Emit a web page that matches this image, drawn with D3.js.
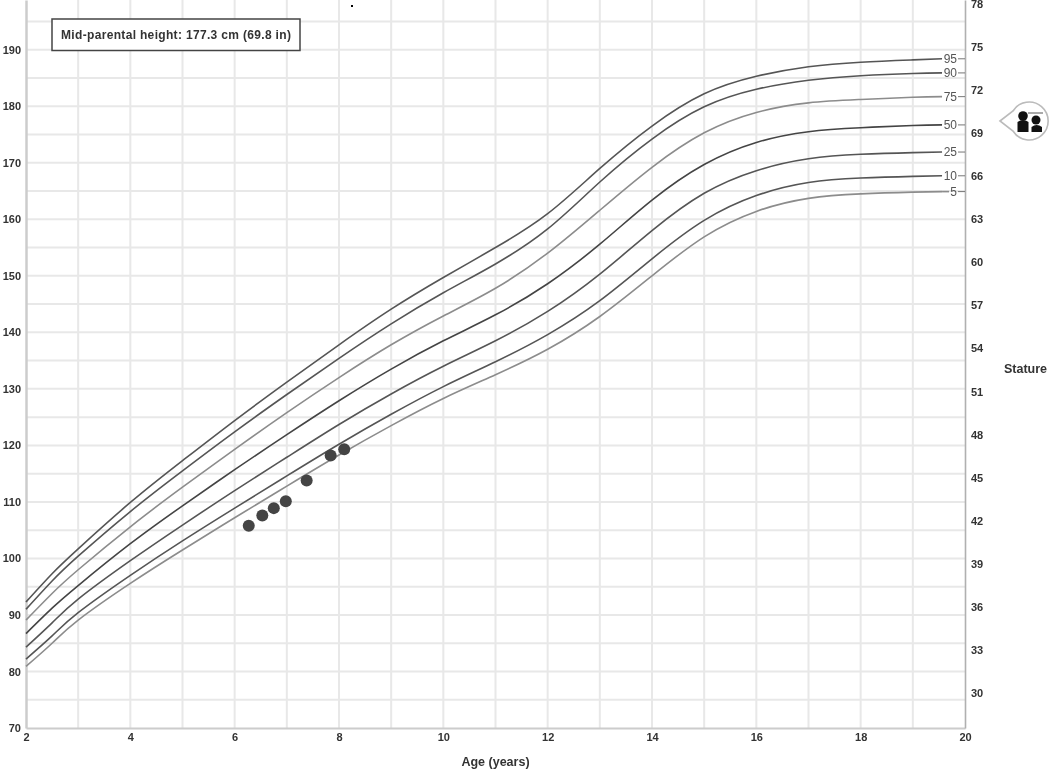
<!DOCTYPE html>
<html lang="en">
<head>
<meta charset="UTF-8">
<script src="https://d3js.org/d3.v7.min.js"></script>
<style>
body { margin:0; background:#fff; }
svg { display:block; filter:blur(0.5px); font-family:"Liberation Sans",Arial,sans-serif; }
text { font-weight:bold; font-size:11px; fill:#333; }
.grid { stroke:#e8e8e8; stroke-width:2px; }
.curve { fill:none; stroke-width:1.6px; }
</style>
<title>Stature for age</title>
</head>
<body>
<script>
var ages = [2,2.5,3,4,5,6,7,8,9,10,11,12,13,14,15,16,17,18,19,19.56];
var p95 = [92.3,97.3,101.7,109.9,117.3,124.4,131.2,137.8,144.1,149.7,155,161,169,176.5,182.2,185.3,187,187.8,188.2,188.4];
var p90 = [91,96,100.4,108.3,115.5,122.4,129,135.4,141.5,147,152.1,158.3,166.6,174.2,179.9,183,184.6,185.4,185.8,185.9];
var p75 = [89.1,93.8,98,105.6,112.6,119.3,125.8,132,137.8,142.9,147.8,154,161.6,169.2,175.3,178.9,180.6,181.2,181.6,181.7];
var p50 = [86.7,91.2,95.2,102.6,109.3,115.7,121.9,127.9,133.5,138.5,143.1,148.6,155.6,163.4,169.7,173.6,175.5,176.2,176.6,176.7];
var p25 = [84.3,88.6,92.8,99.6,105.9,112,117.9,123.7,129.1,134,138.5,143.7,150.3,158,164.6,168.6,170.7,171.5,171.8,171.9];
var p10 = [82.2,86.3,90.4,97,103.1,108.9,114.6,120.2,125.5,130.4,134.8,139.6,145.6,153,159.8,164.2,166.5,167.3,167.6,167.7];
var p5 = [80.9,85,89.1,95.6,101.5,107.2,112.8,118.3,123.5,128.3,132.5,137,142.8,150,156.9,161.4,163.7,164.5,164.8,164.9];
var curveNames = ["95","90","75","50","25","10","5"];
var curveValues = [p95,p90,p75,p50,p25,p10,p5];
var curveColors = ["#555","#555","#8c8c8c","#444","#555","#555","#8c8c8c"];

var visitAges = [6.27,6.53,6.75,6.98,7.38,7.84,8.1];
var visitHeights = [105.8,107.6,108.9,110.1,113.8,118.2,119.3];

var cmTicks = d3.range(70,191,10);
var inTicks = d3.range(30,79,3);
var ageTicks = d3.range(2,21,2);
var cmPerIn = 2.54;

var x = d3.scaleLinear().domain([2,20]).range([26,965]);
var y = d3.scaleLinear().domain([70,198.8]).range([728,0]);

var svg = d3.select("body").append("svg").attr("width",1050).attr("height",771);

// grid
svg.append("g").selectAll("line").data(d3.range(3,20)).enter().append("line")
    .attr("class","grid")
    .attr("x1",function(d){return x(d);}).attr("x2",function(d){return x(d);})
    .attr("y1",0).attr("y2",728);
svg.append("g").selectAll("line").data(d3.range(75,196,5)).enter().append("line")
    .attr("class","grid")
    .attr("x1",26).attr("x2",965)
    .attr("y1",function(d){return y(d);}).attr("y2",function(d){return y(d);});

// axes
var axisBottom = svg.append("g").attr("transform","translate(0,728)").call(d3.axisBottom(x).tickValues(ageTicks).tickSize(0).tickPadding(5));
var axisLeft = svg.append("g").attr("transform","translate(26,0)").call(d3.axisLeft(y).tickValues(cmTicks).tickSize(0).tickPadding(5));
var axisRight = svg.append("g").attr("transform","translate(965,0)")
    .call(d3.axisRight(y).tickValues(inTicks.map(function(d){return d*cmPerIn;})).tickFormat(function(d){return Math.round(d/cmPerIn);}).tickSize(0).tickPadding(6));
[axisBottom,axisLeft,axisRight].forEach(function(a){
    a.selectAll("text").style("font-family","inherit").style("font-size","11px");
});
axisBottom.select(".domain").attr("stroke","#ccc").attr("stroke-width",2);
axisLeft.select(".domain").attr("stroke","#ccc").attr("stroke-width",2.5);
axisRight.select(".domain").attr("stroke","#b0b0b0").attr("stroke-width",1.6);

// percentile curves
var line = d3.line().x(function(d){return x(d[0]);}).y(function(d){return y(d[1]);}).curve(d3.curveNatural);
curveValues.forEach(function(vals,i){
    svg.append("path").attr("class","curve")
        .attr("d",line(ages.map(function(a,j){return [a,vals[j]];})))
        .attr("stroke",curveColors[i]);
    var end = vals[vals.length-1];
    if (curveNames[i].length == 1) {
        svg.append("line").attr("x1",x(19.56)).attr("x2",949).attr("y1",y(end)).attr("y2",y(end)).attr("stroke",curveColors[i]).attr("stroke-width",1.6);
    }
    svg.append("line").attr("x1",958).attr("x2",965).attr("y1",y(end)).attr("y2",y(end)).attr("stroke","#777").attr("stroke-width",1);
    svg.append("text").attr("x",957).attr("y",y(end)).attr("dy","0.36em").attr("text-anchor","end")
        .style("font-weight","normal").style("font-size","12px").style("fill","#555").text(curveNames[i]);
});

// measurements
svg.append("g").selectAll("circle").data(visitAges).enter().append("circle")
    .attr("cx",function(d){return x(d);})
    .attr("cy",function(d,i){return y(visitHeights[i]);})
    .attr("r",6).attr("fill","#444");

// mid-parental box
svg.append("rect").attr("x",52).attr("y",19).attr("width",248).attr("height",31.5).attr("fill","#fff").attr("stroke","#444").attr("stroke-width",1.5);
svg.append("text").attr("x",61).attr("y",39).style("font-size","12px").style("letter-spacing","0.33px").text("Mid-parental height: 177.3 cm (69.8 in)");

svg.append("rect").attr("x",351).attr("y",5).attr("width",2).attr("height",2).attr("fill","#000");

// axis titles
svg.append("text").attr("x",495.5).attr("y",766).attr("text-anchor","middle").style("font-size","12.5px").text("Age (years)");
svg.append("text").attr("x",1025.5).attr("y",373).attr("text-anchor","middle").style("font-size","12.5px").text("Stature");

// parents icon
var icon = svg.append("g").attr("transform","translate(1029,121)");
icon.append("path").attr("d","M-29,0 L-16,-10 A19,19 0 1 1 -16,10 Z").attr("fill","#fff").attr("stroke","#bbb").attr("stroke-width",1.6);
icon.append("circle").attr("cx",-6).attr("cy",-5).attr("r",4.8).attr("fill","#111");
icon.append("path").attr("d","M-11.5,11 L-11.5,1 Q-6,-3 -0.5,1 L-0.5,11 Z").attr("fill","#111");
icon.append("circle").attr("cx",7).attr("cy",-1).attr("r",4.5).attr("fill","#111");
icon.append("path").attr("d","M2.5,11 L2.5,6 Q7.5,2 13,6 L13,11 Z").attr("fill","#111");
icon.append("line").attr("x1",-1).attr("x2",14).attr("y1",-8).attr("y2",-8).attr("stroke","#555").attr("stroke-width",1);
</script>
</body>
</html>
